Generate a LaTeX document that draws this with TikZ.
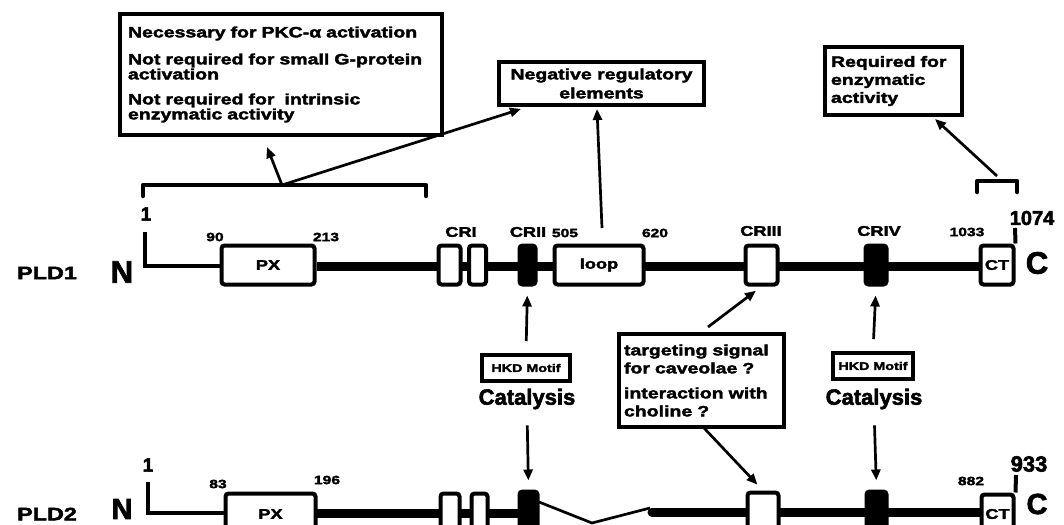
\documentclass[tikz,border=0pt]{standalone}
\usepackage{fontspec}
\usetikzlibrary{arrows.meta}
\newfontfamily\hv[FakeStretch=1.3,FakeBold=2.5]{Liberation Sans Bold}
\newfontfamily\hvn[FakeBold=2.5]{Liberation Sans Bold}
\newcommand{\fs}[1]{\fontsize{#1}{#1}\selectfont}
\begin{document}
\begin{tikzpicture}[x=1pt,y=-1pt,
  dom/.style={draw, line width=4, rounded corners=3, fill=white, inner sep=0, minimum height=39},
  dark/.style={dom, fill=black},
  inlbl/.style={font=\hv\fs{14}},
  num/.style={font=\hv\fs{12}, inner sep=0},
  crl/.style={font=\hv\fs{14}, inner sep=0},
  note/.style={draw, line width=4, fill=white, inner sep=0, font=\hv\fs{15}},
  arr/.style={line width=2.7, -{Triangle[length=11pt,width=9pt]}},
  thin/.style={line width=4.5},
  thick/.style={line width=9},
  brk/.style={line width=4.5, line cap=round, line join=round}
]
\useasboundingbox (0,0) rectangle (1064,524);

% ---------------- PLD1 ----------------
\node[font=\hv\fs{18}] (pld1) at (47,273) {PLD1};
\node[font=\hvn\fs{31}, inner sep=0] (n1) at (122,272) {N};
\coordinate (t1) at (145,232);
\coordinate (a1) at (145,266);
\draw[thin] (t1) -- (a1) -- (222,266);
\draw[thick] (317,266) -- (979,266);
\node[num, font=\hvn\fs{19}] (one1) at (146,214) {1};

\node[dom, minimum width=93] (px1) at (268,265) {};
\node[inlbl] at (px1) {PX};
\node[dom, minimum width=22] (cr1a) at (449.5,265) {};
\node[dom, minimum width=17] (cr1b) at (477.5,265) {};
\node[dark, minimum width=16] (cr2) at (527.5,265) {};
\node[dom, minimum width=89] (loop) at (599,265) {};
\node[inlbl] at (loop) {loop};
\node[dom, minimum width=32] (cr3) at (761.5,265) {};
\node[dark, minimum width=21] (cr4) at (876,265) {};
\node[dom, minimum width=33] (ct1) at (997,265) {};
\node[inlbl] at (ct1) {CT};
\coordinate (e1) at (1015,228);
\draw[line width=4] (e1) -- (ct1.north east);
\node[font=\hvn\fs{31}, inner sep=0] (c1) at (1037,263) {C};

\node[num] (l90) at (215,237) {90};
\node[num] (l213) at (326,237) {213};
\node[crl] (lcr1) at (461,232) {CRI};
\node[crl] (lcr2) at (528,232) {CRII};
\node[num] (l505) at (565,233) {505};
\node[num] (l620) at (655,233) {620};
\node[crl] (lcr3) at (761,231) {CRIII};
\node[crl] (lcr4) at (879,231) {CRIV};
\node[num] (l1033) at (967,232) {1033};
\node[font=\hvn\fs{20}, inner sep=0] (l1074) at (1032,218) {1074};

% ---------------- PLD2 ----------------
\node[font=\hv\fs{18}] (pld2) at (47,514) {PLD2};
\node[font=\hvn\fs{29}, inner sep=0] (n2) at (122,509) {N};
\coordinate (t2) at (148,482);
\coordinate (a2) at (148,513);
\draw[thin] (t2) -- (a2) -- (226,513);
\draw[thick] (317,513) -- (530,513);
\coordinate (g1) at (539,502);
\coordinate (g2) at (592,523);
\coordinate (g3) at (650,508);
\draw[line width=2.7] (g1) -- (g2) -- (g3);
\draw[thick, line cap=round] (652,512) -- (985,512);
\node[font=\hvn\fs{19}, inner sep=0] (one2) at (148,465) {1};

\node[dom, minimum width=90] (px2) at (270.5,513) {};
\node[inlbl] at ([yshift=-1]px2.center) {PX};
\node[dom, minimum width=19] (cr1a2) at (450,513) {};
\node[dom, minimum width=16] (cr1b2) at (479.5,513) {};
\node[dark, minimum width=18] (cr22) at (528.5,511) {};
\node[dom, minimum width=31] (cr32) at (763,512) {};
\node[dark, minimum width=20] (cr42) at (876.5,511) {};
\node[dom, minimum width=32] (ct2) at (997.5,514) {};
\node[inlbl] at (ct2) {CT};
\coordinate (e2) at (1016,475);
\draw[line width=4] (e2) -- (ct2.north east);
\node[font=\hvn\fs{29}, inner sep=0] (c2) at (1037,504) {C};

\node[num] (l83) at (218,484) {83};
\node[num] (l196) at (327,480) {196};
\node[num] (l882) at (971,481) {882};
\node[font=\hvn\fs{22}, inner sep=0] (l933) at (1029,464) {933};

% ---------------- notes ----------------
\node[note, anchor=north west, minimum width=322, minimum height=121,
      text width=306, align=left, inner xsep=8] (box1) at (118,12)
  {Necessary for PKC-α activation\\[12pt]
   Not required for small G-protein\\activation\\[10pt]
   Not required for\ \ intrinsic\\enzymatic activity};
\node[note, anchor=north west, minimum width=205, minimum height=43,
      align=center, inner sep=1] (box2) at (497,60)
  {Negative regulatory\\[4pt]elements};
\node[note, anchor=north west, minimum width=137, minimum height=68,
      text width=125, align=left, inner xsep=6] (box3) at (823,45)
  {Required for\\[3pt]enzymatic\\[3pt]activity};
\node[note, anchor=north west, minimum width=165, minimum height=93,
      text width=155, align=left, inner xsep=5] (box4) at (617,332)
  {targeting signal\\[3pt]for caveolae ?\\[10pt]interaction with\\[3pt]choline ?};

\node[note, font=\hv\fs{11}, minimum width=88, minimum height=26] (hkd1) at (526,368) {HKD Motif};
\node[font=\hvn\fs{22}, inner sep=0] (cat1) at (527,399) {Catalysis};
\node[note, font=\hv\fs{11}, minimum width=80, minimum height=26] (hkd2) at (873,366) {HKD Motif};
\node[font=\hvn\fs{22}, inner sep=0] (cat2) at (874,399) {Catalysis};

% brackets
\coordinate (b1l) at (143,196);
\coordinate (b1r) at (426,196);
\draw[brk] (b1l) -- (143,185) -- (426,185) -- (b1r);
\coordinate (b1) at (282,185);
\coordinate (b2l) at (977,192);
\coordinate (b2r) at (1017,192);
\draw[brk] (b2l) -- (977,181) -- (1017,181) -- (b2r);
\coordinate (b2) at (997,176);

% arrows
\coordinate (tip1) at (267,147);
\coordinate (tip2) at (521,109);
\coordinate (tip3) at (597,109);
\coordinate (s3) at (602,228);
\coordinate (tip4) at (935,119);
\draw[arr] (b1) -- (tip1);
\draw[arr] (b1) -- (tip2);
\draw[arr] (s3) -- (tip3);
\draw[arr] (b2) -- (tip4);

\draw[arr, shorten <=12pt, shorten >=9pt] (hkd1.north) -- (cr2.south);
\draw[arr, shorten <=12pt, shorten >=9pt] (hkd2.north) -- (cr4.south);
\draw[arr, shorten <=16pt, shorten >=9pt] (cat1.south) -- (cr22.north);
\draw[arr, shorten <=16pt, shorten >=9pt] (cat2.south) -- (cr42.north);

\coordinate (s5) at (708,327);
\coordinate (s6) at (704,428);
\draw[arr, shorten >=7pt] (s5) -- (cr3.south);
\draw[arr, shorten >=8pt] (s6) -- (cr32.north);
\end{tikzpicture}
\end{document}
